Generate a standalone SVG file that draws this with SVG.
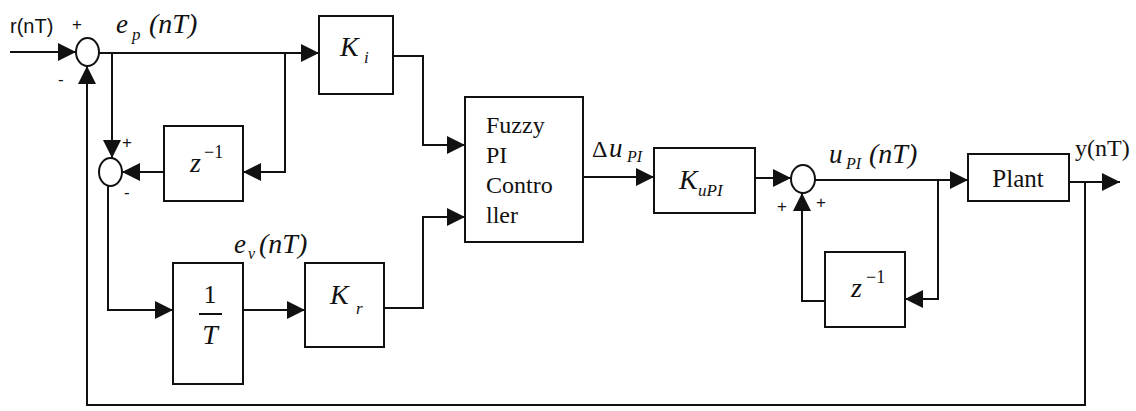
<svg xmlns="http://www.w3.org/2000/svg" width="1136" height="411" viewBox="0 0 1136 411">
<style>
.b{fill:#fff;stroke:#111;stroke-width:2}
.s{fill:#fff;stroke:#111;stroke-width:2}
.c{fill:none;stroke:#111;stroke-width:2}
.m{font-family:"Liberation Serif",serif;font-style:italic;fill:#111}
.t{font-family:"Liberation Serif",serif;fill:#111}
.g{font-family:"Liberation Sans",sans-serif;fill:#111}
</style>
<defs>
<marker id="a" markerUnits="userSpaceOnUse" markerWidth="18" markerHeight="18" refX="18" refY="9" orient="auto">
<path d="M0,0 L18,9 L0,18 z" fill="#111"/>
</marker>
</defs>
<rect width="1136" height="411" fill="#fff"/>
<g id="connectors">
<path class="c" d="M10,52 H76" marker-end="url(#a)"/>
<path class="c" d="M99,53 H319" marker-end="url(#a)"/>
<path class="c" d="M112,53 V158" marker-end="url(#a)"/>
<path class="c" d="M285,53 V172 H243" marker-end="url(#a)"/>
<path class="c" d="M164,172 H122" marker-end="url(#a)"/>
<path class="c" d="M108,186 V310 H173" marker-end="url(#a)"/>
<path class="c" d="M243,310 H305" marker-end="url(#a)"/>
<path class="c" d="M384,308 H423 V217 H465" marker-end="url(#a)"/>
<path class="c" d="M393,56 H423 V145 H465" marker-end="url(#a)"/>
<path class="c" d="M583,177 H654" marker-end="url(#a)"/>
<path class="c" d="M755,178 H791" marker-end="url(#a)"/>
<path class="c" d="M815,180 H968" marker-end="url(#a)"/>
<path class="c" d="M938,180 V299 H905" marker-end="url(#a)"/>
<path class="c" d="M825,301 H802 V193" marker-end="url(#a)"/>
<path class="c" d="M1069,182 H1120" marker-end="url(#a)"/>
<path class="c" d="M1085,182 V405 H87 V66" marker-end="url(#a)"/>
</g>
<g id="labels">
<text class="g" x="10" y="33" font-size="20">r(nT)</text>
<text class="g" x="72" y="30" font-size="17">+</text>
<text class="g" x="58" y="85" font-size="17">-</text>
<text class="m" x="116" y="33" font-size="27">e</text>
<text class="m" x="132" y="40" font-size="17">p</text>
<text class="m" x="149" y="33" font-size="28">(nT)</text>
<text class="g" x="122" y="148" font-size="17">+</text>
<text class="g" x="124" y="198" font-size="17">-</text>
<text class="m" x="234" y="253" font-size="27">e</text>
<text class="m" x="248" y="259" font-size="16">v</text>
<text class="m" x="259" y="253" font-size="28">(nT)</text>
<text class="t" x="592" y="157" font-size="24">Δ</text>
<text class="m" x="609" y="157" font-size="27">u</text>
<text class="m" x="627" y="162" font-size="16">PI</text>
<text class="m" x="829" y="163" font-size="27">u</text>
<text class="m" x="846" y="169" font-size="16">PI</text>
<text class="m" x="869" y="163" font-size="28">(nT)</text>
<text class="g" x="777" y="212" font-size="17">+</text>
<text class="g" x="816" y="208" font-size="17">+</text>
<text class="t" x="1075" y="156" font-size="24">y(nT)</text>
</g>
<g id="sum1"><ellipse class="s" cx="87.5" cy="52" rx="11.5" ry="14"/></g>
<g id="sum2"><ellipse class="s" cx="110.5" cy="172" rx="11.5" ry="14"/></g>
<g id="sum3"><ellipse class="s" cx="803" cy="179" rx="12" ry="14"/></g>
<g id="Ki">
<rect class="b" x="319" y="16" width="74" height="78"/>
<text class="m" x="340" y="56" font-size="28">K</text>
<text class="m" x="364" y="63" font-size="17">i</text>
</g>
<g id="delay1">
<rect class="b" x="164" y="126" width="79" height="75"/>
<text class="m" x="190" y="172" font-size="28">z</text>
<text class="t" x="204" y="158" font-size="18">−1</text>
</g>
<g id="invT">
<rect class="b" x="173" y="263" width="70" height="121"/>
<text class="t" x="210" y="303" font-size="26" text-anchor="middle">1</text>
<line x1="199" y1="314" x2="222" y2="314" stroke="#111" stroke-width="2"/>
<text class="m" x="210" y="344" font-size="28" text-anchor="middle">T</text>
</g>
<g id="Kr">
<rect class="b" x="305" y="263" width="79" height="84"/>
<text class="m" x="330" y="304" font-size="28">K</text>
<text class="m" x="356" y="314" font-size="17">r</text>
</g>
<g id="fuzzy">
<rect class="b" x="465" y="97" width="118" height="145"/>
<text class="t" x="486" y="133" font-size="24">Fuzzy</text>
<text class="t" x="486" y="163" font-size="24">PI</text>
<text class="t" x="486" y="193" font-size="24">Contro</text>
<text class="t" x="486" y="223" font-size="24">ller</text>
</g>
<g id="KuPI">
<rect class="b" x="654" y="148" width="101" height="65"/>
<text class="m" x="679" y="189" font-size="28">K</text>
<text class="m" x="698" y="196" font-size="17">uPI</text>
</g>
<g id="delay2">
<rect class="b" x="825" y="252" width="80" height="75"/>
<text class="m" x="851" y="297" font-size="28">z</text>
<text class="t" x="866" y="283" font-size="18">−1</text>
</g>
<g id="plant">
<rect class="b" x="968" y="154" width="101" height="47"/>
<text class="t" x="1018" y="187" font-size="25" text-anchor="middle">Plant</text>
</g>
</svg>
